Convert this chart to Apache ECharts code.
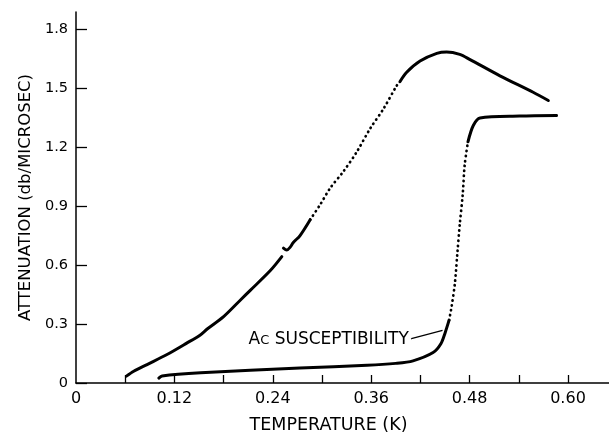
<!DOCTYPE html>
<html>
<head>
<meta charset="utf-8">
<script src="https://cdn.jsdelivr.net/npm/echarts@6/dist/echarts.min.js"></script>
<style>
html,body{margin:0;padding:0;background:#fff;}
#chart{width:609px;height:439px;}
</style>
</head>
<body>
<div id="chart"></div>
<script>
// ---- data (temperature K, attenuation db/microsec) ----
const attenSolidA = [[0.0615,0.035],[0.0704,0.06],[0.0867,0.094],[0.111,0.145],[0.135,0.203],[0.1516,0.245],[0.16,0.275],[0.18,0.338],[0.2006,0.423],[0.2125,0.472],[0.237,0.573],[0.251,0.644]];
const attenSolidB = [[0.253,0.687],[0.257,0.677],[0.261,0.691],[0.265,0.716],[0.273,0.75],[0.2856,0.832]];
const attenDotted = [[0.2856,0.832],[0.2978,0.909],[0.31,0.993],[0.326,1.077],[0.3425,1.178],[0.3587,1.296],[0.375,1.397],[0.391,1.514],[0.395,1.535]];
const attenSolidC = [[0.395,1.535],[0.403,1.582],[0.4196,1.64],[0.44,1.679],[0.452,1.686],[0.468,1.674],[0.48,1.649],[0.517,1.565],[0.5575,1.481],[0.576,1.439]];

const suscSolidA = [[0.101,0.025],[0.105,0.036],[0.152,0.052],[0.273,0.077],[0.355,0.09],[0.39,0.1],[0.411,0.113],[0.4355,0.155],[0.445,0.2],[0.45,0.254],[0.455,0.32]];
const suscDotted = [[0.455,0.32],[0.458,0.388],[0.462,0.506],[0.465,0.657],[0.468,0.808],[0.4716,0.96],[0.474,1.11],[0.478,1.229]];
const suscSolidB = [[0.478,1.229],[0.4845,1.312],[0.4927,1.35],[0.541,1.36],[0.586,1.363]];

const leaderLine = [[0.409,0.226],[0.447,0.268]];

const xTickValues = [0.06,0.12,0.18,0.24,0.30,0.36,0.42,0.48,0.54,0.60];
const xLabelValues = [0,0.12,0.24,0.36,0.48,0.60];
const xLabelTexts = ['0','0.12','0.24','0.36','0.48','0.60'];
const yTickValues = [0,0.3,0.6,0.9,1.2,1.5,1.8];
const yLabelTexts = ['0','0.3','0.6','0.9','1.2','1.5','1.8'];

const xTitle = 'TEMPERATURE (K)';
const yTitle = 'ATTENUATION (db/MICROSEC)';

// ---- chart ----
const FONT = 'DejaVu Sans';
const INK = '#000';
const chart = echarts.init(document.getElementById('chart'), null, {renderer:'canvas'});

function solid(data){
  return {type:'line', data:data, showSymbol:false, symbol:'none', silent:true, smooth:0.3,
    lineStyle:{color:INK, width:3, cap:'round', join:'round'}};
}
function dotted(data){
  return {type:'line', data:data, showSymbol:false, symbol:'none', silent:true, smooth:0.3,
    lineStyle:{color:INK, width:2.7, type:[0.3,4.7], cap:'round'}};
}

chart.setOption({
  animation:false,
  backgroundColor:'#fff',
  grid:{left:76, right:0, top:12, bottom:52, containLabel:false},
  xAxis:{
    type:'value', min:0, max:0.65,
    name:xTitle, nameLocation:'middle', nameGap:33,
    nameTextStyle:{fontFamily:FONT, fontSize:17.5, color:INK, padding:[0,28,0,0]},
    axisLine:{show:true, onZero:false, lineStyle:{color:INK, width:1.5}},
    axisTick:{show:true, inside:true, length:8, customValues:xTickValues, lineStyle:{color:INK, width:1.3}},
    axisLabel:{show:true, margin:8, fontFamily:FONT, fontSize:16, color:INK,
      customValues:xLabelValues,
      formatter:function(v){const i=xLabelValues.findIndex(x=>Math.abs(x-v)<1e-6); return i>=0?xLabelTexts[i]:'';}},
    splitLine:{show:false}
  },
  yAxis:{
    type:'value', min:0, max:1.89,
    name:yTitle, nameLocation:'middle', nameGap:40, nameRotate:90,
    nameTextStyle:{fontFamily:FONT, fontSize:16.5, color:INK},
    axisLine:{show:true, onZero:false, lineStyle:{color:INK, width:1.5}},
    axisTick:{show:true, inside:true, length:11, customValues:yTickValues, lineStyle:{color:INK, width:1.3}},
    axisLabel:{show:true, margin:8, fontFamily:FONT, fontSize:14.5, color:INK,
      customValues:yTickValues,
      formatter:function(v){const i=yTickValues.findIndex(x=>Math.abs(x-v)<1e-6); return i>=0?yLabelTexts[i]:'';}},
    splitLine:{show:false}
  },
  series:[
    solid(attenSolidA), solid(attenSolidB), dotted(attenDotted), solid(attenSolidC),
    solid(suscSolidA), dotted(suscDotted), solid(suscSolidB),
    {type:'line', data:leaderLine, showSymbol:false, symbol:'none', silent:true,
      lineStyle:{color:INK, width:1.2}},
    {type:'scatter', data:[leaderLine[0]], symbolSize:1, silent:true,
      itemStyle:{color:INK, opacity:1},
      label:{show:true, position:'left', distance:2, offset:[0,2],
        fontFamily:FONT, fontSize:17, color:'#000', opacity:1, textBorderWidth:0,
        formatter:'{big|A}{small|C}{big| SUSCEPTIBILITY}',
        rich:{
          big:{fontFamily:FONT, fontSize:17, color:'#000', lineHeight:19, verticalAlign:'bottom'},
          small:{fontFamily:FONT, fontSize:13, color:'#000', lineHeight:19, verticalAlign:'bottom', padding:[0,0,1,0]}
        }},
      labelLayout:{hideOverlap:false}
    }
  ]
});
</script>
</body>
</html>
